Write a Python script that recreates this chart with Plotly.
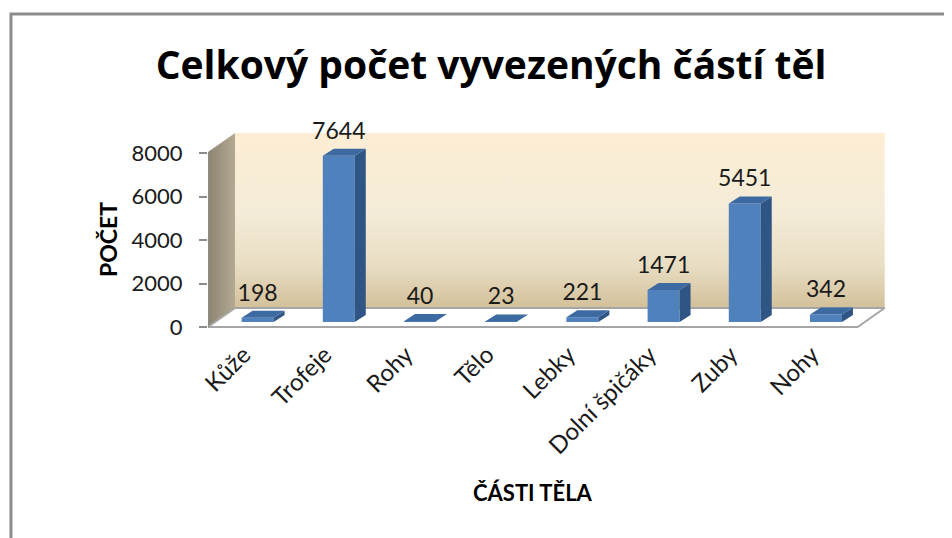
import plotly.graph_objects as go

# ---------------- data ----------------
categories = ["Kůže", "Trofeje", "Rohy", "Tělo", "Lebky", "Dolní špičáky", "Zuby", "Nohy"]
values = [198, 7644, 40, 23, 221, 1471, 5451, 342]
y_tick_values = [0, 2000, 4000, 6000, 8000]
chart_title = "Celkový počet vyvezených částí těl"
x_title = "ČÁSTI TĚLA"
y_title = "POČET"

# ---------------- geometry / style (axis units) ----------------
X_RANGE = [-0.611, 7.85]
Y_RANGE = [-368, 9978]
BAR_W = 0.394
BAR_BASE = 230          # bars stand slightly behind the front edge of the floor
BAR_DX, BAR_DY = 0.135, 322   # 3D depth of bars
WALL_DX, WALL_DY = 0.333, 874  # 3D depth of the floor / walls
FLOOR_RIGHT = 7.39
WALL_TOP = 8920
WALL_FRONT_TOP = 8047
FONT = "Lato"

fig = go.Figure()

# ---- walls & floor (base axes, drawn below the bars) ----
xl = X_RANGE[0]
xb = xl + WALL_DX
# back wall
fig.add_trace(go.Scatter(
    x=[xb, FLOOR_RIGHT + WALL_DX, FLOOR_RIGHT + WALL_DX, xb, xb],
    y=[WALL_DY, WALL_DY, WALL_TOP, WALL_TOP, WALL_DY],
    mode="lines", line=dict(width=0), fill="toself",
    fillgradient=dict(type="vertical",
                      colorscale=[[0, "#D3C09A"], [0.25, "#E9DEC4"], [0.55, "#F4ECD8"], [1, "#FDEDD3"]]),
    hoverinfo="skip", showlegend=False))
# left wall
fig.add_trace(go.Scatter(
    x=[xl, xb, xb, xl, xl],
    y=[0, WALL_DY, WALL_TOP, WALL_FRONT_TOP, 0],
    mode="lines", line=dict(width=0), fill="toself",
    fillgradient=dict(type="horizontal",
                      colorscale=[[0, "#8C8472"], [1, "#B4AA92"]]),
    hoverinfo="skip", showlegend=False))
# floor
fig.add_trace(go.Scatter(
    x=[xl, FLOOR_RIGHT, FLOOR_RIGHT + WALL_DX, xb, xl],
    y=[0, 0, WALL_DY, WALL_DY, 0],
    mode="lines", line=dict(width=2, color="#A6A6A6"), fill="toself", fillcolor="#FFFFFF",
    hoverinfo="skip", showlegend=False))
# left wall front edge
fig.add_trace(go.Scatter(
    x=[xl, xl], y=[0, WALL_FRONT_TOP], mode="lines",
    line=dict(width=2, color="#8C8C8C"), hoverinfo="skip", showlegend=False))

# ---- bars (overlay axes, drawn above the walls) ----
xs = list(range(len(categories)))
fig.add_trace(go.Bar(
    x=xs, y=values, base=BAR_BASE, width=BAR_W,
    marker=dict(color="#4F81BD", line=dict(width=0)),
    xaxis="x2", yaxis="y2", hoverinfo="skip", showlegend=False))

side_x, side_y, top_x, top_y = [], [], [], []
for i, v in zip(xs, values):
    top = BAR_BASE + v
    xr = i + BAR_W / 2
    xlft = i - BAR_W / 2
    side_x += [xr, xr + BAR_DX, xr + BAR_DX, xr, xr, None]
    side_y += [BAR_BASE, BAR_BASE + BAR_DY, top + BAR_DY, top, BAR_BASE, None]
    top_x += [xlft, xr, xr + BAR_DX, xlft + BAR_DX, xlft, None]
    top_y += [top, top, top + BAR_DY, top + BAR_DY, top, None]

fig.add_trace(go.Scatter(x=side_x, y=side_y, mode="lines", line=dict(width=0),
                         fill="toself", fillcolor="#2F5584",
                         xaxis="x2", yaxis="y2", hoverinfo="skip", showlegend=False))
fig.add_trace(go.Scatter(x=top_x, y=top_y, mode="lines", line=dict(width=0),
                         fill="toself", fillcolor="#3D6AA0",
                         xaxis="x2", yaxis="y2", hoverinfo="skip", showlegend=False))

# ---- data labels ----
fig.add_trace(go.Scatter(
    x=xs, y=[BAR_BASE + v + BAR_DY + 200 for v in values],
    mode="text", text=[str(v) for v in values], textposition="top center",
    textfont=dict(family=FONT, size=23, color="#1A1A1A"),
    xaxis="x2", yaxis="y2", hoverinfo="skip", showlegend=False))

# page body has an 8px margin: figure occupies screen (8,8)-(952,538)
fig.update_layout(
    width=944, height=530,
    margin=dict(l=200, r=57, t=102, b=203),
    paper_bgcolor="white", plot_bgcolor="rgba(0,0,0,0)",
    font=dict(family=FONT, color="#1A1A1A"),
    title=dict(text="<b>" + chart_title + "</b>", x=0.5117, y=0.8925,
               xref="container", yref="container", xanchor="center", yanchor="middle",
               font=dict(family="Open Sans", size=39, color="#000000")),
    xaxis=dict(range=X_RANGE, tickmode="array", tickvals=xs, ticktext=categories,
               tickangle=-45, showgrid=False, zeroline=False, showline=False, ticks="",
               tickfont=dict(family=FONT, size=24, color="#1A1A1A"),
               ticklabelstandoff=0, ticklabelshift=-14),
    yaxis=dict(range=Y_RANGE, tickmode="array", tickvals=y_tick_values,
               ticks="outside", ticklen=8, tickcolor="#8C8C8C", tickwidth=2,
               showgrid=False, zeroline=False, showline=False,
               tickfont=dict(family=FONT, size=22, color="#1A1A1A"),
               ticklabelstandoff=12),
    xaxis2=dict(range=X_RANGE, overlaying="x", visible=False),
    yaxis2=dict(range=Y_RANGE, overlaying="y", visible=False),
    annotations=[
        dict(text="<b>" + y_title + "</b>", xref="paper", yref="y", x=0, y=4000,
             xshift=-100, textangle=-90, showarrow=False,
             font=dict(family=FONT, size=23, color="#000000"),
             xanchor="center", yanchor="middle"),
        dict(text="<b>" + x_title + "</b>", xref="paper", yref="paper",
             x=(533 - 208) / 687, y=(335 - 492) / 225, showarrow=False,
             font=dict(family=FONT, size=22, color="#000000"),
             xanchor="center", yanchor="middle"),
    ],
    shapes=[dict(type="path", xref="paper", yref="paper",
                 path="M -0.2868,-0.95 L -0.2868,1.4267 L 1.1,1.4267",
                 line=dict(color="#8C8C8C", width=3))],
)

fig.write_html("out.html")
